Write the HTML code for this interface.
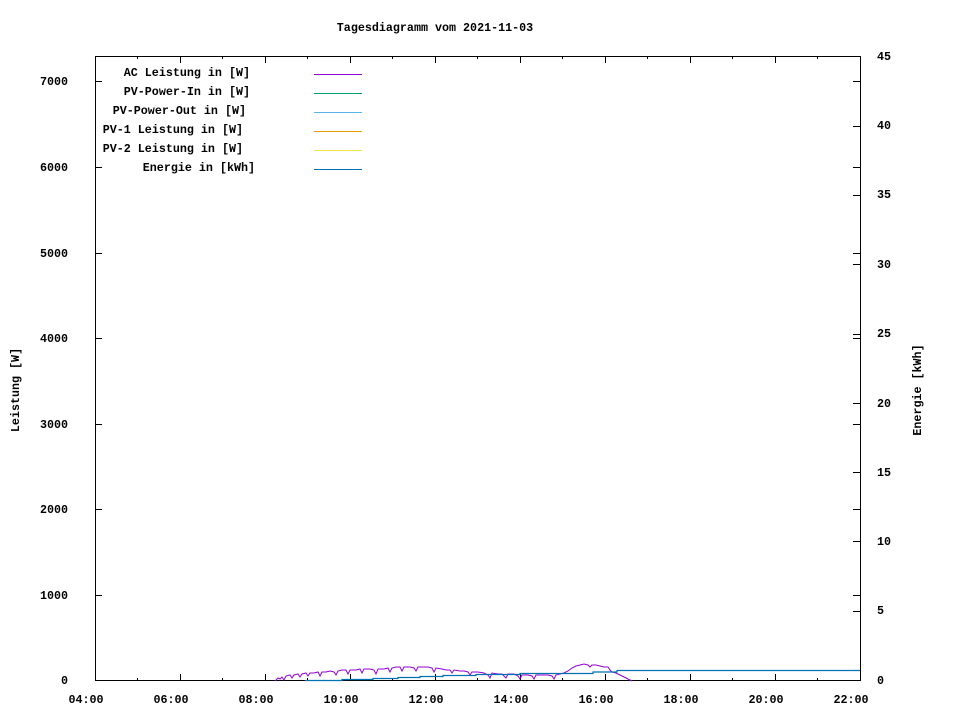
<!DOCTYPE html>
<html><head><meta charset="utf-8"><style>
body{margin:0;background:#fff;}
svg text{font-family:"Liberation Mono",monospace;font-size:11.7px;font-weight:bold;fill:#000;}
</style></head><body>
<svg width="960" height="720" xmlns="http://www.w3.org/2000/svg">
<rect width="960" height="720" fill="#fff"/>
<text x="435" y="31" text-anchor="middle">Tagesdiagramm vom 2021-11-03</text>
<g stroke="#000" stroke-width="1" fill="none">
<rect x="95.5" y="56.5" width="765" height="624"/>
<path d="M95 680.5h7M95 595.5h7M95 509.5h7M95 424.5h7M95 338.5h7M95 253.5h7M95 167.5h7M95 81.5h7"/>
<path d="M860 680.5h-7M860 611.5h-7M860 541.5h-7M860 472.5h-7M860 403.5h-7M860 334.5h-7M860 264.5h-7M860 195.5h-7M860 126.5h-7M860 56.5h-7"/>
<path d="M860 595.5h-7M860 509.5h-7M860 424.5h-7M860 338.5h-7M860 253.5h-7M860 167.5h-7M860 81.5h-7"/>
<path d="M180.5 681v-7M265.5 681v-7M350.5 681v-7M435.5 681v-7M520.5 681v-7M605.5 681v-7M690.5 681v-7M775.5 681v-7"/>
<path d="M137.5 681v-3M222.5 681v-3M307.5 681v-3M392.5 681v-3M477.5 681v-3M562.5 681v-3M647.5 681v-3M732.5 681v-3M817.5 681v-3"/>
<path d="M180.5 56v7M265.5 56v7M350.5 56v7M435.5 56v7M520.5 56v7M605.5 56v7M690.5 56v7M775.5 56v7"/>
<path d="M137.5 56v3M222.5 56v3M307.5 56v3M392.5 56v3M477.5 56v3M562.5 56v3M647.5 56v3M732.5 56v3M817.5 56v3"/>
</g>
<g text-anchor="end">
<text x="68" y="684">0</text><text x="68" y="599">1000</text><text x="68" y="513">2000</text><text x="68" y="428">3000</text><text x="68" y="342">4000</text><text x="68" y="257">5000</text><text x="68" y="171">6000</text><text x="68" y="85">7000</text>
</g>
<g>
<text x="877" y="684">0</text><text x="877" y="614">5</text><text x="877" y="545">10</text><text x="877" y="476">15</text><text x="877" y="407">20</text><text x="877" y="337">25</text><text x="877" y="268">30</text><text x="877" y="198">35</text><text x="877" y="129">40</text><text x="877" y="60">45</text>
</g>
<g text-anchor="middle">
<text x="86" y="703">04:00</text><text x="171" y="703">06:00</text><text x="256" y="703">08:00</text><text x="341" y="703">10:00</text><text x="426" y="703">12:00</text><text x="511" y="703">14:00</text><text x="596" y="703">16:00</text><text x="681" y="703">18:00</text><text x="766" y="703">20:00</text><text x="851" y="703">22:00</text>
</g>
<text transform="translate(19,390) rotate(-90)" text-anchor="middle">Leistung [W]</text>
<text transform="translate(921,390) rotate(-90)" text-anchor="middle">Energie [kWh]</text>
<g text-anchor="end">
<text x="250" y="76">AC Leistung in [W]</text>
<text x="250" y="95">PV-Power-In in [W]</text>
<text x="246" y="114">PV-Power-Out in [W]</text>
<text x="243" y="133">PV-1 Leistung in [W]</text>
<text x="243" y="152">PV-2 Leistung in [W]</text>
<text x="255" y="171">Energie in [kWh]</text>
</g>
<g stroke-width="1">
<path d="M314 74.5h48" stroke="#9400d3"/>
<path d="M314 93.5h48" stroke="#009e73"/>
<path d="M314 112.5h48" stroke="#56b4e9"/>
<path d="M314 131.5h48" stroke="#e69f00"/>
<path d="M314 150.5h48" stroke="#f0e442"/>
<path d="M314 169.5h48" stroke="#0072b2"/>
</g>
<polyline fill="none" stroke="#9400d3" stroke-width="1" points="275,681 278,678 280,679 282,677 284,680 286,676 290,675 292,678 294,675 298,674 300,677 302,674 306,673 308,676 310,673 314,673 318,672 320,676 322,672 326,672 330,671 334,672 336,675 338,671 342,670 346,670 348,674 350,670 356,670 360,669 362,673 364,669 370,669 374,670 376,674 378,669 384,669 388,668 390,672 392,668 396,667 400,667 402,671 404,667 410,667 414,668 416,671 418,667 424,667 428,667 432,668 434,672 436,668 442,669 446,670 450,670 452,673 454,670 460,671 464,671 468,672 470,675 472,672 478,672 484,673 488,675 490,678 492,673 498,674 502,674 506,678 508,674 514,674 518,676 520,679 522,675 528,675 532,676 534,679 536,675 542,675 548,675 552,676 554,679 556,675 560,674 564,673 568,671 572,668 576,666 580,665 584,664 588,665 590,667 592,665 596,665 600,666 604,667 608,667 610,670 612,672 616,673 620,675 624,677 628,679 632,681"/>
<polyline fill="none" stroke="#0072b2" stroke-width="1.2" points="305,680.5 342,680.5 342,679.5 373,679.5 373,678.5 398,678.5 398,677.5 420,677.5 420,676.5 443,676.5 443,675.5 476,675.5 476,674.5 520,674.5 520,673.5 593,673.5 593,672 617,672 617,670.5 860,670.5"/>
</svg>
</body></html>
